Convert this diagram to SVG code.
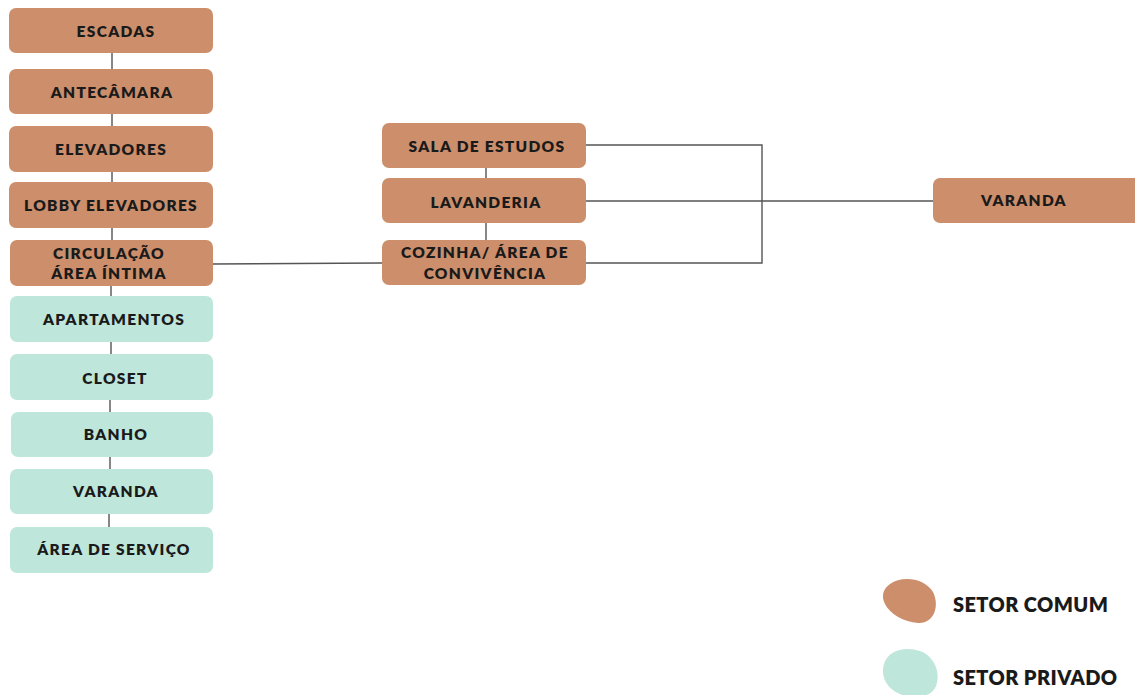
<svg xmlns="http://www.w3.org/2000/svg" width="1135" height="695" viewBox="0 0 1135 695">
<style>
.c{fill:#CC8E6B}
.p{fill:#BEE6DB}
.t{font-family:Lato,"Noto Sans","Liberation Sans",sans-serif;font-weight:800;font-size:15.5px;letter-spacing:1.3px;fill:#1a1a1a;text-anchor:middle}
.l{font-family:Lato,"Noto Sans","Liberation Sans",sans-serif;font-weight:800;font-size:20px;letter-spacing:0.4px;fill:#1a1a1a}
.ln{stroke:#555;stroke-width:1.4;fill:none}
</style>
<rect width="1135" height="695" fill="#fff"/>
<g id="connectors">
<path class="ln" d="M112 53V69M112 114V126M112 172V182M112 228V240M111 286V296M111 342V354M110 400V412M110 457V469M109 514V527"/>
<path class="ln" d="M213 264L382 263M486 168V178M486 223V240M586 145H762V263H586M586 201H933"/>
</g>
<g id="escadas"><rect class="c" x="9" y="8" width="204" height="45" rx="7"/><text class="t" x="116" y="37">ESCADAS</text></g>
<g id="antecamara"><rect class="c" x="9" y="69" width="204" height="45" rx="7"/><text class="t" x="112" y="98">ANTECÂMARA</text></g>
<g id="elevadores"><rect class="c" x="9" y="126" width="204" height="46" rx="7"/><text class="t" x="111" y="155">ELEVADORES</text></g>
<g id="lobby"><rect class="c" x="9" y="182" width="204" height="46" rx="7"/><text class="t" x="111" y="211">LOBBY ELEVADORES</text></g>
<g id="circulacao"><rect class="c" x="10" y="240" width="203" height="46" rx="7"/><text class="t" x="109" y="259">CIRCULAÇÃO</text><text class="t" x="109" y="279">ÁREA ÍNTIMA</text></g>
<g id="apartamentos"><rect class="p" x="10" y="296" width="203" height="46" rx="7"/><text class="t" x="114" y="325">APARTAMENTOS</text></g>
<g id="closet"><rect class="p" x="10" y="354" width="203" height="46" rx="7"/><text class="t" x="115" y="384">CLOSET</text></g>
<g id="banho"><rect class="p" x="11" y="412" width="202" height="45" rx="7"/><text class="t" x="116" y="440">BANHO</text></g>
<g id="varanda-apto"><rect class="p" x="10" y="469" width="203" height="45" rx="7"/><text class="t" x="116" y="497">VARANDA</text></g>
<g id="area-servico"><rect class="p" x="10" y="527" width="203" height="46" rx="7"/><text class="t" x="114" y="555">ÁREA DE SERVIÇO</text></g>
<g id="sala-estudos"><rect class="c" x="382" y="123" width="204" height="45" rx="7"/><text class="t" x="487" y="152">SALA DE ESTUDOS</text></g>
<g id="lavanderia"><rect class="c" x="382" y="178" width="204" height="45" rx="7"/><text class="t" x="486" y="208">LAVANDERIA</text></g>
<g id="cozinha"><rect class="c" x="382" y="240" width="204" height="45" rx="7"/><text class="t" x="485" y="258">COZINHA/ ÁREA DE</text><text class="t" x="485" y="279">CONVIVÊNCIA</text></g>
<g id="varanda"><rect class="c" x="933" y="178" width="210" height="45" rx="7"/><text class="t" x="1024" y="206">VARANDA</text></g>
<g id="legend">
<path class="c" d="M890 584C902 575 925 578 933 592C940 606 934 624 918 623C904 622 890 614 885 604C881 596 883 589 890 584Z"/>
<path class="p" d="M884 664C888 650 905 646 920 651C934 656 941 672 936 686C932 697 916 699 902 695C888 690 880 678 884 664Z"/>
<text class="l" x="953" y="612">SETOR COMUM</text>
<text class="l" x="953" y="685">SETOR PRIVADO</text>
</g>
</svg>
